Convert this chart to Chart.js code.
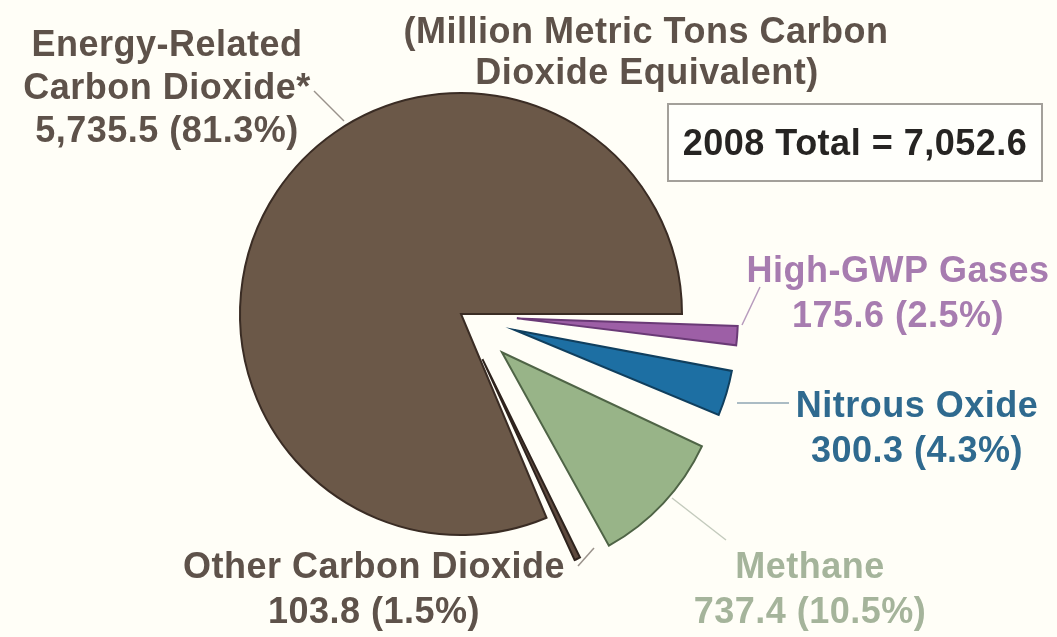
<!DOCTYPE html>
<html>
<head>
<meta charset="utf-8">
<script src="https://cdn.jsdelivr.net/npm/chart.js@4.4.1/dist/chart.umd.min.js"></script>
<style>
  html, body { margin: 0; padding: 0; background: #fffef7; }
  #wrap { width: 1057px; height: 637px; position: relative; }
  canvas { display: block; }
</style>
</head>
<body>
<div id="wrap"><canvas id="pie" width="1057" height="637"></canvas></div>
<script>
// 2008 U.S. greenhouse gas emissions by gas (million metric tons CO2 equivalent)
const categories = ['High-GWP Gases', 'Nitrous Oxide', 'Methane', 'Other Carbon Dioxide', 'Energy-Related Carbon Dioxide'];
const emissions = [175.6, 300.3, 737.4, 103.8, 5735.5];
const shares = [2.5, 4.3, 10.5, 1.5, 81.3];
const labelNames = [['High-GWP Gases'], ['Nitrous Oxide'], ['Methane'], ['Other Carbon Dioxide'], ['Energy-Related', 'Carbon Dioxide*']];
const titleLines = ['(Million Metric Tons Carbon', 'Dioxide Equivalent)'];
const totalText = '2008 Total = 7,052.6';

const PIE_RADIUS = 221;
const sliceFill = ['#9d5fa6', '#1d6fa3', '#98b488', '#5e4a3e', '#6b5848'];
const sliceEdge = ['#6a3a76', '#103f5e', '#4f6446', '#2e231d', '#3a2c24'];
const sliceOffset = [224, 224, 224, 200, 0];

// label placement: centre x, first baseline, colour, leader line
const labelStyle = [
  { x: 898, y: 282, color: '#a77cb0', leader: [[760, 287], [742, 325]], lead: '#b79bbd' },
  { x: 917, y: 417, color: '#2f6a8f', leader: [[737, 403], [789, 403]], lead: '#8fa6b3' },
  { x: 810, y: 578, color: '#a5b49b', leader: [[672, 498], [726, 540]], lead: '#c4cbbd' },
  { x: 374, y: 578, color: '#5e524a', leader: [[578, 566], [594, 548]], lead: '#9a928b' },
  { x: 167, y: 56,  color: '#5e524a', leader: [[314, 91], [344, 121]], lead: '#9a928b' }
];

const FONT = 'bold 36px "Liberation Sans", Arial, Helvetica, sans-serif';

function fmt(v) {
  return v.toLocaleString('en-US', { minimumFractionDigits: 1, maximumFractionDigits: 1 });
}

function drawText(ctx, text, x, y, color) {
  ctx.fillStyle = color;
  ctx.fillText(text, x, y);
}

// exploded arcs grow outward in Chart.js; keep every slice at the same radius
const equalRadius = {
  id: 'equalRadius',
  beforeDatasetsDraw(chart) {
    const meta = chart.getDatasetMeta(0);
    meta.data.forEach((arc) => {
      const off = (arc.options.offset || 0) / 4;
      const fix = 1 - Math.sin(Math.min(Math.PI, arc.circumference || 0));
      arc.outerRadius = PIE_RADIUS - off * fix;
    });
  }
};

const labelsPlugin = {
  id: 'gasLabels',
  afterDraw(chart) {
    const ctx = chart.ctx;
    ctx.save();
    ctx.font = FONT;
    if ('letterSpacing' in ctx) ctx.letterSpacing = '0.5px';
    ctx.textAlign = 'center';
    ctx.textBaseline = 'alphabetic';

    // title
    drawText(ctx, titleLines[0], 646, 43, '#5e524a');
    drawText(ctx, titleLines[1], 647, 84, '#5e524a');

    // total box
    ctx.lineWidth = 2;
    ctx.strokeStyle = '#a3a09a';
    ctx.fillStyle = '#fffffb';
    ctx.fillRect(668, 104, 374, 77);
    ctx.strokeRect(668, 104, 374, 77);
    drawText(ctx, totalText, 855, 155, '#262422');

    // slice labels with leader lines
    categories.forEach((name, i) => {
      const s = labelStyle[i];
      const lines = labelNames[i].concat([fmt(emissions[i]) + ' (' + shares[i].toFixed(1) + '%)']);
      const step = lines.length === 3 ? 43 : 45;
      lines.forEach((t, k) => drawText(ctx, t, s.x, s.y + k * step, s.color));
      ctx.beginPath();
      ctx.moveTo(s.leader[0][0], s.leader[0][1]);
      ctx.lineTo(s.leader[1][0], s.leader[1][1]);
      ctx.lineWidth = 1.5;
      ctx.strokeStyle = s.lead;
      ctx.stroke();
    });
    ctx.restore();
  }
};

new Chart(document.getElementById('pie'), {
  type: 'pie',
  data: {
    labels: categories,
    datasets: [{
      data: emissions,
      backgroundColor: sliceFill,
      borderColor: sliceEdge,
      borderWidth: 2,
      borderJoinStyle: 'miter',
      offset: sliceOffset
    }]
  },
  options: {
    responsive: false,
    animation: false,
    devicePixelRatio: 1,
    rotation: 90,
    radius: PIE_RADIUS,
    layout: { padding: { left: 10, right: 145, top: 0, bottom: 9 } },
    plugins: {
      legend: { display: false },
      tooltip: { enabled: false },
      title: { display: false }
    }
  },
  plugins: [equalRadius, labelsPlugin]
});
</script>
</body>
</html>
